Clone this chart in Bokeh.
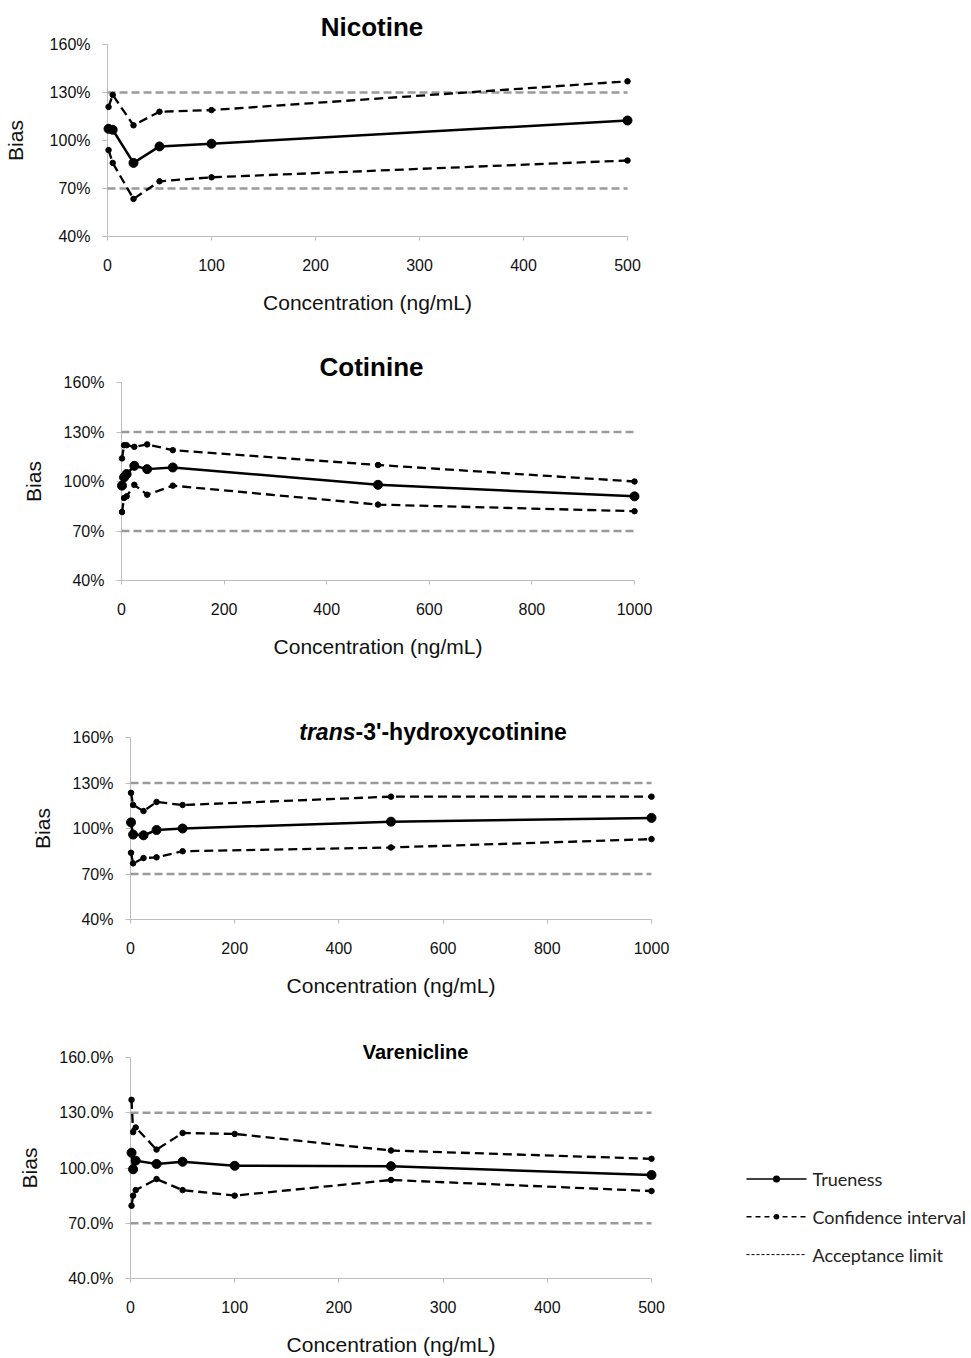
from bokeh.plotting import figure
from bokeh.models import Range1d, FixedTicker
from bokeh.core.properties import value
from bokeh.embed import file_html
from bokeh.resources import INLINE

# ---------------- data ----------------
nic_x = [1, 5, 25, 50, 100, 500]
nic_true = [107.3, 106.7, 86.0, 96.3, 98.0, 112.5]
nic_upper = [121.0, 128.5, 109.5, 118.0, 119.0, 137.0]
nic_lower = [94.0, 86.0, 63.5, 74.5, 77.0, 87.5]

cot_x = [1, 5, 10, 25, 50, 100, 500, 1000]
cot_true = [97.5, 102.5, 104.5, 109.5, 107.5, 108.5, 98.0, 91.0]
cot_upper = [114.0, 122.0, 122.0, 121.0, 122.5, 119.0, 110.0, 100.0]
cot_lower = [81.5, 90.0, 91.0, 98.0, 92.0, 97.5, 86.0, 82.0]

oh_x = [1, 5, 25, 50, 100, 500, 1000]
oh_true = [104.0, 96.0, 95.5, 99.0, 100.0, 104.5, 107.0]
oh_upper = [123.5, 115.5, 111.5, 117.5, 115.5, 121.0, 121.0]
oh_lower = [84.0, 77.0, 80.5, 81.0, 85.0, 87.5, 93.0]

var_x = [1, 2.5, 5, 25, 50, 100, 250, 500]
var_true = [108.3, 99.3, 104.0, 102.2, 103.4, 101.2, 101.0, 96.2]
var_upper = [137.0, 119.5, 122.0, 110.0, 119.0, 118.5, 109.5, 105.0]
var_lower = [79.5, 85.0, 88.0, 94.0, 88.0, 85.0, 93.5, 87.5]

titles = ["Nicotine", "Cotinine", ["trans", "-3'-hydroxycotinine"], "Varenicline"]
limits = [70, 130]
y_ticks = [40, 70, 100, 130, 160]
y_labels_int = ["40%", "70%", "100%", "130%", "160%"]
y_labels_dec = ["40.0%", "70.0%", "100.0%", "130.0%", "160.0%"]
x_ticks_500 = [0, 100, 200, 300, 400, 500]
x_ticks_1000 = [0, 200, 400, 600, 800, 1000]
legend_labels = ["Trueness", "Confidence interval", "Acceptance limit"]

FONT = "Liberation Sans"
GRAY_AXIS = "#bdbdbd"
LIMIT_COLOR = "#9a9a9a"
W = 971


class Panel:
    """Figure plus helpers converting page-pixel positions to data units."""

    def __init__(self, x, tr, up, lo, xmax, xticks, ylabels, height,
                 frame_left, frame_right, b_top, b_bottom, bias_standoff):
        self.xmax = xmax
        self.fl, self.fr = frame_left, frame_right
        self.fh = height - b_top - b_bottom
        self.b_top = b_top
        p = figure(width=W, height=height, output_backend="svg",
                   toolbar_location=None,
                   x_range=Range1d(0, xmax), y_range=Range1d(40, 160),
                   min_border_left=frame_left, min_border_right=W - frame_right,
                   min_border_top=b_top, min_border_bottom=b_bottom)
        p.outline_line_color = None
        p.grid.visible = False

        xa = p.xaxis[0]
        xa.ticker = FixedTicker(ticks=xticks)
        xa.axis_line_color = GRAY_AXIS
        xa.major_tick_line_color = GRAY_AXIS
        xa.major_tick_in = 0
        xa.major_tick_out = 4
        xa.minor_tick_line_color = None
        xa.major_label_standoff = 18
        xa.major_label_text_font = FONT
        xa.major_label_text_font_size = "16px"
        xa.major_label_text_color = "#111111"
        xa.axis_label = "Concentration (ng/mL)"
        xa.axis_label_text_font = FONT
        xa.axis_label_text_font_size = "21px"
        xa.axis_label_text_font_style = "normal"
        xa.axis_label_text_color = "#111111"
        xa.axis_label_standoff = 17

        ya = p.yaxis[0]
        ya.ticker = FixedTicker(ticks=y_ticks)
        ya.major_label_overrides = {t: lab for t, lab in zip(y_ticks, ylabels)}
        ya.axis_line_color = GRAY_AXIS
        ya.major_tick_line_color = GRAY_AXIS
        ya.major_tick_in = 0
        ya.major_tick_out = 5
        ya.minor_tick_line_color = None
        ya.major_label_standoff = 12
        ya.major_label_text_font = FONT
        ya.major_label_text_font_size = "16px"
        ya.major_label_text_color = "#111111"
        ya.axis_label = "Bias"
        ya.axis_label_text_font = FONT
        ya.axis_label_text_font_size = "21px"
        ya.axis_label_text_font_style = "normal"
        ya.axis_label_text_color = "#111111"
        ya.axis_label_standoff = bias_standoff

        for lim in limits:
            p.line([0, xmax], [lim, lim], line_color=LIMIT_COLOR, line_width=2.5,
                   line_dash="8 4", level="overlay")
        for series in (up, lo):
            p.line(x, series, line_color="black", line_width=2.3,
                   line_dash="9 5", level="overlay")
            p.scatter(x, series, size=5.5, color="black", level="overlay")
        p.line(x, tr, line_color="black", line_width=2.5, level="overlay")
        p.scatter(x, tr, size=9, color="black", level="overlay")
        self.p = p

    def dx(self, px):  # page x pixel -> data x
        return (px - self.fl) / (self.fr - self.fl) * self.xmax

    def dy(self, py_local):  # pixel from figure top -> data y
        return 160 - (py_local - self.b_top) / self.fh * 120

    def text(self, px, py_local, txt, size, style="bold", align="center", font=FONT,
             color="black"):
        self.p.text(x=[self.dx(px)], y=[self.dy(py_local)], text=[txt],
                    text_font=value(font), text_font_size=value(size),
                    text_font_style=style, text_align=align,
                    text_baseline="middle", text_color=color, level="overlay")

    def hline(self, px0, px1, py_local, **kw):
        y = self.dy(py_local)
        self.p.line([self.dx(px0), self.dx(px1)], [y, y], level="overlay", **kw)

    def dot(self, px, py_local, diameter):
        # round-capped very short stroke = filled dot (not culled outside the frame)
        self.hline(px - 0.05, px + 0.05, py_local, line_color="black",
                   line_width=diameter, line_cap="round")


# Panel 1: Nicotine (page y 0..335, frame 106..627 x 44..236)
P1 = Panel(nic_x, nic_true, nic_upper, nic_lower, 500, x_ticks_500,
           y_labels_int, 335, 106, 627, 44, 99, 20)
P1.text(371, 26, titles[0], "26px")

# Panel 2: Cotinine (page y 335..680, frame 121..634 x 382..580)
P2 = Panel(cot_x, cot_true, cot_upper, cot_lower, 1000, x_ticks_1000,
           y_labels_int, 345, 121, 634, 47, 100, 16)
P2.text(371, 366 - 335, titles[1], "26px")

# Panel 3: trans-3'-hydroxycotinine (page y 680..1015, frame 130..651 x 737..919)
P3 = Panel(oh_x, oh_true, oh_upper, oh_lower, 1000, x_ticks_1000,
           y_labels_int, 335, 130, 651, 57, 96, 16)
P3.text(355, 731 - 680, titles[2][0], "23px", style="bold italic", align="right")
P3.text(355, 731 - 680, titles[2][1], "23px", style="bold", align="left")

# Panel 4: Varenicline (page y 1015..1358, frame 130..651 x 1057..1279)
P4 = Panel(var_x, var_true, var_upper, var_lower, 500, x_ticks_500,
           y_labels_dec, 343, 130, 651, 42, 79, 15)
P4.text(415, 1051 - 1015, titles[3], "20px")

# Legend drawn at the right of panel 4
top4 = 1015
leg_rows = [1179 - top4, 1217 - top4, 1255 - top4]
gx0, gx1, gxm, tx = 746, 806, 776, 812
P4.hline(gx0, gx1, leg_rows[0], line_color="black", line_width=1.5)
P4.dot(gxm, leg_rows[0], 7)
P4.hline(gx0, gx1, leg_rows[1], line_color="black", line_width=1.5, line_dash="5 4")
P4.dot(gxm, leg_rows[1], 5.5)
P4.hline(gx0, gx1, leg_rows[2], line_color="black", line_width=1, line_dash="3 2")
for lab, r in zip(legend_labels, leg_rows):
    P4.text(tx, r, lab, "18px", style="normal", align="left", font="Lato",
            color="#222222")

with open("out.html", "w") as f:
    f.write(file_html([P1.p, P2.p, P3.p, P4.p], INLINE))
